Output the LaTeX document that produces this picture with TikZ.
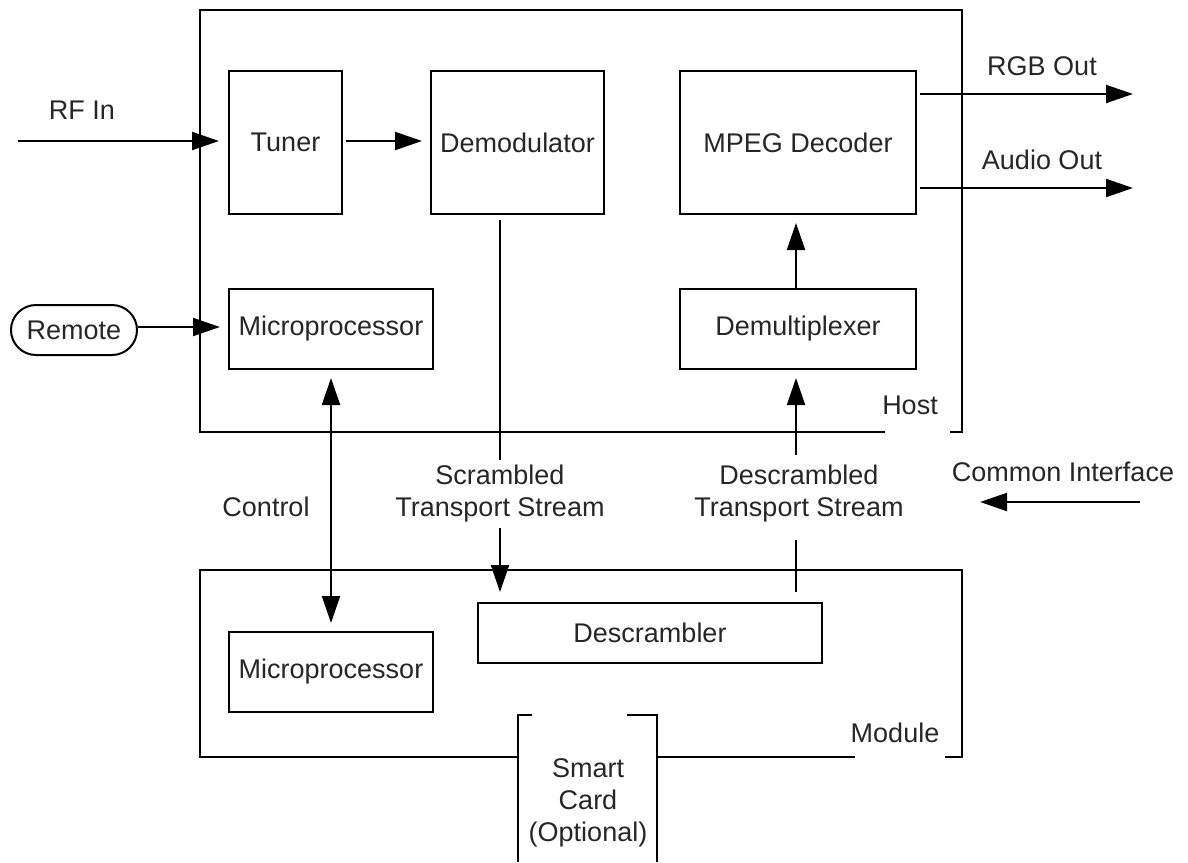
\documentclass[tikz,border=0pt]{standalone}
\usepackage{fontspec}
\setmainfont{Liberation Sans}
\usetikzlibrary{arrows.meta}
\begin{document}
\begin{tikzpicture}[x=1pt,y=-1pt,
  every node/.style={font=\fontsize{27}{32}\selectfont, text=black!85, inner sep=0pt},
  blk/.style={draw, line width=2pt, align=center},
  lbl/.style={align=center},
  wire/.style={line width=2pt},
  arr/.style={wire, -{Triangle[length=27pt,width=18pt]}},
  darr/.style={wire, {Triangle[length=27pt,width=18pt]}-{Triangle[length=27pt,width=18pt]}}]
\useasboundingbox (0,0) rectangle (1188,862);

% Host enclosure, open at the lower right for its label
\draw[wire] (885,432) -- (200,432) -- (200,10) -- (962,10) -- (962,432) -- (950,432);
% Module enclosure, interrupted by the smart card slot and the label
\draw[wire] (518,757) -- (200,757) -- (200,570) -- (962,570) -- (962,757) -- (945,757);
\draw[wire] (657,757) -- (855,757);
% Smart card slot
\draw[wire] (532,715) -- (518,715) -- (518,862);
\draw[wire] (627,715) -- (657,715) -- (657,862);

% Host blocks
\node[blk, minimum width=113pt, minimum height=143pt] (tuner) at (285.5,142.5) {Tuner};
\node[blk, minimum width=173pt, minimum height=143pt] (demod) at (517.5,142.5) {Demodulator};
\node[blk, minimum width=236pt, minimum height=143pt] (mpeg) at (798,142.5) {MPEG Decoder};
\node[blk, minimum width=204pt, minimum height=80pt] (mpa) at (331,329) {Microprocessor};
\node[blk, minimum width=236pt, minimum height=80pt] (demux) at (798,329) {Demultiplexer};
\node[draw, line width=2pt, rounded corners=25pt, minimum width=126pt, minimum height=50pt] (remote) at (74,330) {Remote};

% Module blocks
\node[blk, minimum width=344pt, minimum height=60pt] (descr) at (650,633) {Descrambler};
\node[blk, minimum width=204pt, minimum height=80pt] (mpb) at (331,672) {Microprocessor};

% Labels
\node[lbl] (rflbl) at (82,110) {RF In};
\node[lbl] (rgblbl) at (1042,66) {RGB Out};
\node[lbl] (audlbl) at (1042,160) {Audio Out};
\node[lbl] (hostlbl) at (910,405) {Host};
\node[lbl] (cilbl) at (1063,472) {Common Interface};
\node[lbl] (ctllbl) at (266,507) {Control};
\node[lbl] (scrlbl) at (500,494) {Scrambled\\Transport Stream};
\node[lbl] (dsclbl) at (799,494) {Descrambled\\Transport Stream};
\node[lbl] (modlbl) at (895,733) {Module};
\node[lbl] (sclbl) at (588,803) {Smart\\Card\\(Optional)};

% Free ends of the connectors
\coordinate (rfin) at (18,141);
\coordinate (rgbend) at (1133,94);
\coordinate (audend) at (1133,188);
\coordinate (cia) at (1140,502);
\coordinate (cib) at (980,502);
\coordinate (sa) at (500,460);
\coordinate (sb) at (500,528);
\coordinate (da) at (796,540);
\coordinate (db) at (796,455);

% Signal path
\draw[arr, shorten >=9pt] (rfin) -- (rfin -| tuner.west);
\draw[arr, shorten <=3pt, shorten >=8pt] (tuner.east |- rfin) -- (demod.west |- rfin);
\draw[arr, shorten <=3pt] (rgbend -| mpeg.east) -- (rgbend);
\draw[arr, shorten <=3pt] (audend -| mpeg.east) -- (audend);
\draw[arr, shorten >=8pt] (remote.east |- 0,327) -- (mpa.west |- 0,327);
\draw[arr, shorten >=8pt] (demux.north -| da) -- (mpeg.south -| da);
\draw[arr] (cia) -- (cib);

% Transport streams
\draw[wire, shorten <=5pt] (demod.south -| sa) -- (sa);
\draw[arr, shorten >=10pt] (sb) -- (sb |- descr.north);
\draw[wire, shorten <=10pt] (descr.north -| da) -- (da);
\draw[arr, shorten >=8pt] (db) -- (db |- demux.south);

% Control link between the two microprocessors
\draw[darr, shorten <=8pt, shorten >=8pt] (mpa.south) -- (mpb.north);
\end{tikzpicture}
\end{document}
